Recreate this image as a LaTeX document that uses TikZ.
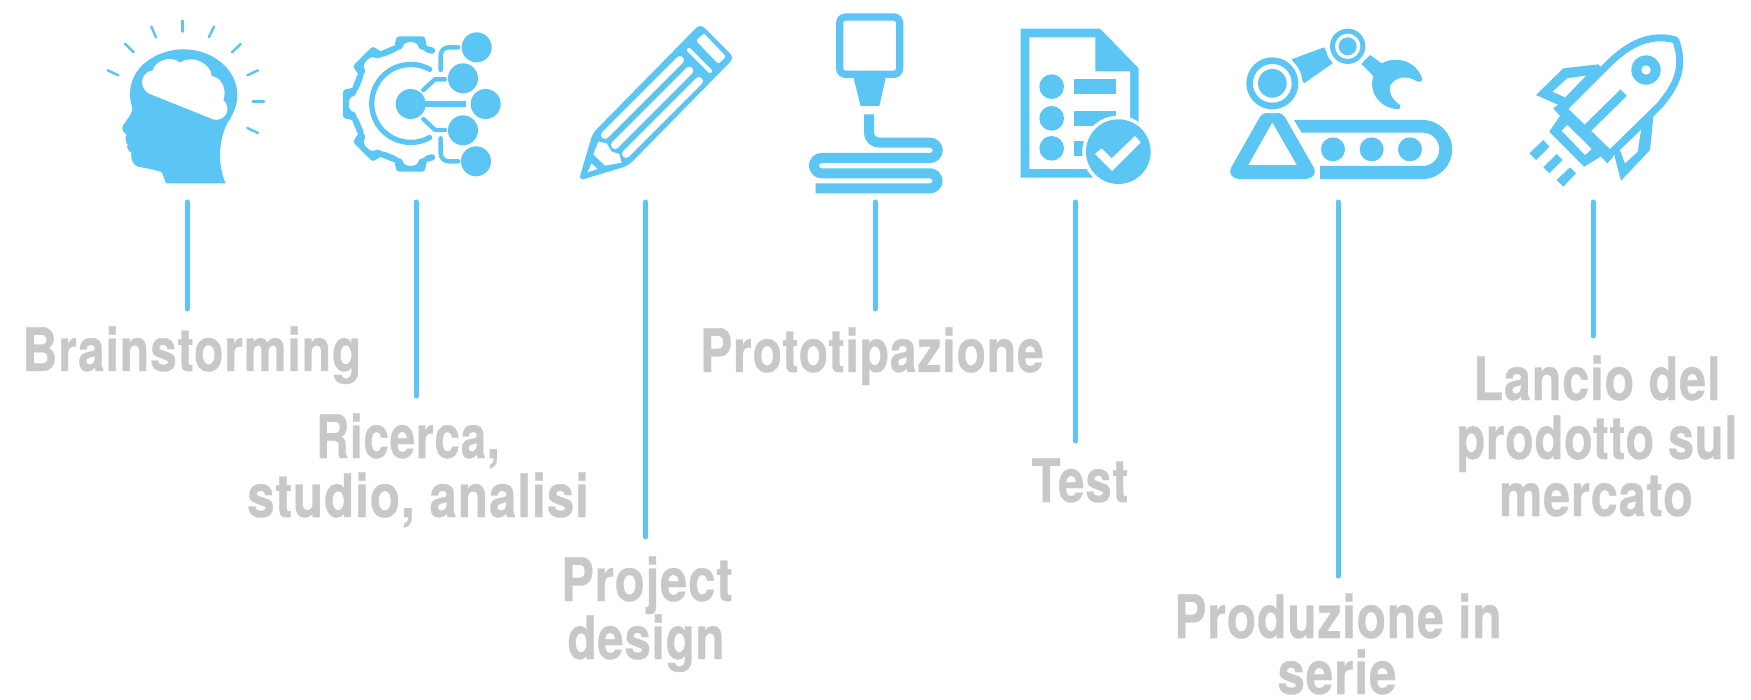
\documentclass[tikz,border=0pt]{standalone}
\usepackage{fontspec}
\setmainfont{TeX Gyre Heros}[FakeStretch=0.8,LetterSpace=1.5,FakeBold=0.5]
\definecolor{ic}{HTML}{5BC5F4}
\definecolor{tx}{HTML}{C8C8C8}
\tikzset{
 lbl/.style={anchor=base,inner sep=0pt,text=tx,transform shape,xscale=#1,font=\fontsize{60}{60}\selectfont\bfseries},
 lbl/.default=1,
 conn/.style={draw=ic,line width=5pt,line cap=round},
 zm/.style 2 args={shift={(#1,#2)},scale=1/3},
 ray/.style={draw=ic,line width=2.5pt,line cap=round},
 ln/.style={draw=ic,line width=4.4pt,line cap=round,line join=round},
 gr/.style={draw=ic,line width=6.3pt,line cap=round,line join=round},
 whline/.style={draw=white,line cap=round},
}
\begin{document}
\begin{tikzpicture}[x=1pt,y=-1pt]
\useasboundingbox (0,0) rectangle (1751,700);
\fill[white] (0,0) rectangle (1751,700);
% labels
\node[lbl=1.0] (t1) at (192,371) {Brainstorming};
\node[lbl=0.95] (t2a) at (408,458) {Ricerca,};
\node[lbl=1.03] (t2b) at (418,517) {studio, analisi};
\node[lbl=1.02] (t3a) at (647,601) {Project};
\node[lbl=0.985] (t3b) at (646,659) {design};
\node[lbl=1.0] (t4) at (872,372) {Prototipazione};
\node[lbl=0.985] (t5) at (1080,502) {Test};
\node[lbl=1.0] (t6a) at (1338,638) {Produzione in};
\node[lbl=1.03] (t6b) at (1337,694) {serie};
\node[lbl=1.01] (t7a) at (1597,400) {Lancio del};
\node[lbl=0.975] (t7b) at (1597,459) {prodotto sul};
\node[lbl=1.01] (t7c) at (1596,516) {mercato};
% connectors
\coordinate (a1) at (187,202); \coordinate (b1) at (187,309);
\coordinate (a2) at (416,202); \coordinate (b2) at (416,396);
\coordinate (a3) at (645.5,202); \coordinate (b3) at (645.5,537);
\coordinate (a4) at (875,202); \coordinate (b4) at (875,309);
\coordinate (a5) at (1075.5,202); \coordinate (b5) at (1075.5,441);
\coordinate (a6) at (1338,202); \coordinate (b6) at (1338,576);
\coordinate (a7) at (1593,202); \coordinate (b7) at (1593,336);
\foreach \i in {1,...,7} \draw[conn] (a\i) -- (b\i);
% head
\begin{scope}[zm={80}{0}]
\fill[ic] (258,550) -- (246,518) .. controls (240,512) and (200,505) .. (175,500)
 .. controls (160,497) and (152,480) .. (154,458)
 .. controls (146,452) and (138,445) .. (143,434) .. controls (135,425) and (135,412) .. (140,404)
 .. controls (130,398) and (122,385) .. (130,375)
 .. controls (140,360) and (158,340) .. (157,325)
 .. controls (150,300) and (148,280) .. (152,260)
 .. controls (165,190) and (240,148) .. (310,148)
 .. controls (400,148) and (472,210) .. (472,285)
 .. controls (472,320) and (455,350) .. (443,368)
 .. controls (425,400) and (420,440) .. (420,470)
 .. controls (420,500) and (428,530) .. (437,550) -- cycle;
\fill[white] (205,280) -- (392,355) .. controls (415,368) and (445,350) .. (442,325)
 .. controls (441,312) and (436,305) .. (430,300)
 .. controls (442,270) and (425,232) .. (395,228)
 .. controls (395,195) and (340,160) .. (300,188)
 .. controls (275,165) and (225,180) .. (218,212)
 .. controls (190,212) and (170,255) .. (205,280) -- cycle;
\draw[ray] (308,62)--(308,95);
\draw[ray] (214,80)--(228,112);
\draw[ray] (135,131)--(161,157);
\draw[ray] (83,211)--(115,226);
\draw[ray] (387,111)--(402,80);
\draw[ray] (456,157)--(482,132);
\draw[ray] (502,226)--(534,211);
\draw[ray] (518,305)--(552,305);
\draw[ray] (502,384)--(534,399);
\end{scope}
% gear
\begin{scope}[zm={320}{20}]
\foreach \a in {0,45,90,135,180}{
 \begin{scope}[shift={(272,252)},rotate=\a]
 \fill[ic,rounded corners=2.5pt] (-52,-158) -- (-42,-203) -- (42,-203) -- (52,-158) -- (24,-166)
   .. controls (20,-190) and (-20,-190) .. (-24,-166) -- cycle;
 \end{scope}
}
\foreach \a in {0,45,90,135}{
 \begin{scope}[shift={(272,252)},rotate=\a]
 \draw[gr] (-48,-166) -- (-83,-151);
 \end{scope}
}
\draw[gr] (322,88) -- (336,92);
\draw[gr] (322,416) -- (336,412);
\draw[draw=ic,line width=5.3pt,line cap=round] (329,148) arc[start angle=-61,end angle=-299,radius=117];
\fill[ic] (272,252) circle[radius=45];
\fill[ic] (272,243) rectangle (438,261);
\foreach \cx/\cy in {470/82,429/175,497/252,429/331,468/424} \fill[ic] (\cx,\cy) circle[radius=45];
\draw[ln] (310,210) -- (345,178) -- (375,178);
\draw[ln] (310,297) -- (345,330) -- (375,330);
\draw[ln,rounded corners=8pt] (362,150) -- (362,82) -- (415,82);
\draw[ln,rounded corners=8pt] (362,355) -- (362,424) -- (415,424);
\end{scope}
% pencil
\begin{scope}[zm={500}{0}]
\fill[ic,rounded corners=6pt] (236,542) -- (278,400) -- (601,71) -- (703,173) -- (385,497) -- cycle;
\draw[whline,line width=8pt] (315,405) -- (540,180);
\draw[whline,line width=8pt] (345,435) -- (568,212);
\draw[whline,line width=8pt] (378,462) -- (597,243);
\draw[whline,line width=4.2pt] (567,150) -- (630,213);
\fill[white,rounded corners=2pt] (588,122) -- (612,100) -- (678,170) -- (655,192) -- cycle;
\fill[white] (295,425) -- (320,430) -- (335,455) -- (358,462) -- (365,488) -- (315,497) -- (280,463) -- cycle;
\fill[white] (275,490) -- (292,507) -- (262,517) -- cycle;
\end{scope}
% printer
\begin{scope}[zm={780}{0}]
\draw[draw=ic,line width=7.3pt,rounded corners=6pt] (179,51) rectangle (359,223);
\fill[ic] (220,230) -- (318,230) -- (298,318) -- (242,318) -- cycle;
\draw[draw=ic,line width=10pt] (267,343) -- (267,395) .. controls (267,418) and (282,428) .. (300,428) -- (450,428)
 arc[start angle=-90,end angle=90,radius=23] -- (125,474)
 arc[start angle=270,end angle=90,radius=23] -- (450,520)
 arc[start angle=-90,end angle=90,radius=22.5] -- (107,565);
\end{scope}
% document
\begin{scope}[zm={900}{0}]
\fill[ic] (362,86) -- (600,86) -- (716,205) -- (716,533) -- (362,533) -- cycle;
\fill[white] (388,112) -- (586,112) -- (586,214) -- (690,214) -- (690,507) -- (388,507) -- cycle;
\foreach \cy in {260,355,445} \fill[ic] (455,\cy) circle[radius=37];
\fill[ic] (522,238) rectangle (648,282);
\fill[ic] (522,333) rectangle (648,377);
\fill[ic] (522,423) rectangle (600,468);
\fill[white] (655,455) circle[radius=108];
\fill[ic] (655,455) circle[radius=97];
\fill[white] (585,462) -- (605,445) -- (635,475) -- (705,408) -- (722,427) -- (636,513) -- cycle;
\end{scope}
% robot
\begin{scope}[zm={1200}{0}]
\fill[ic,rounded corners=5pt] (187,338) -- (247,338) -- (350,518) -- (330,537) -- (105,537) -- (85,518) -- cycle;
\fill[white] (217,368) -- (290,495) -- (145,495) -- cycle;
\fill[ic] (275,178) -- (372,142) -- (398,190) -- (312,250) -- cycle;
\fill[white] (217,250) circle[radius=90];
\fill[white] (443,139) circle[radius=66];
\fill[ic] (217,250) circle[radius=78];
\fill[white] (217,250) circle[radius=58];
\fill[ic] (217,250) circle[radius=43];
\fill[ic] (443,139) circle[radius=53];
\fill[white] (443,139) circle[radius=38];
\fill[ic] (443,139) circle[radius=27];
\fill[ic] (510,165) -- (545,190) .. controls (590,165) and (650,185) .. (666,235)
 .. controls (668,245) and (658,248) .. (650,243)
 .. controls (620,225) and (585,230) .. (570,258)
 .. controls (565,285) and (585,305) .. (600,315)
 .. controls (605,325) and (595,330) .. (585,327)
 .. controls (540,320) and (505,280) .. (520,228) -- (484,192) -- cycle;
\fill[ic] (282,360) -- (668,360) arc[start angle=-90,end angle=90,radius=88.5] -- (360,537) -- (360,498) -- (668,498)
 arc[start angle=90,end angle=-90,radius=50] -- (305,398) -- cycle;
\foreach \cx in {399,515,630} \fill[ic] (\cx,448) circle[radius=36];
\end{scope}
% rocket
\begin{scope}[zm={1510}{10}]
\fill[ic,line join=round] (78,255) -- (160,175) -- (265,163) -- (300,200) -- (180,300) -- cycle;
\fill[ic,line join=round] (430,320) -- (420,420) -- (333,512) -- (310,425) -- (350,350) -- cycle;
\fill[white] (228,197) -- (172,205) -- (128,245) -- (165,262) -- cycle;
\fill[white] (393,360) -- (383,425) -- (345,460) -- (330,420) -- cycle;
\fill[ic] (130,295) -- (150,318) -- (118,365) -- (222,470) -- (272,440) -- (292,460) -- (310,440) -- (200,300) -- (150,280) -- cycle;
\fill[white] (172,345) -- (245,417) -- (225,435) -- (155,362) -- cycle;
\draw[draw=ic,fill=white,line width=7pt,line join=round] (160,297)
 -- (285,172) .. controls (340,115) and (410,65) .. (497,90)
 .. controls (530,180) and (490,235) .. (450,285) -- (300,432) -- cycle;
\draw[draw=ic,line width=9pt] (341,248) -- (232,355);
\fill[ic] (408,180) circle[radius=44];
\fill[white] (408,180) circle[radius=14];
\fill[ic] (58,430) -- (100,390) -- (118,410) -- (78,450) -- cycle;
\fill[ic] (100,472) -- (140,432) -- (158,450) -- (118,490) -- cycle;
\fill[ic] (140,510) -- (180,472) -- (198,490) -- (160,530) -- cycle;
\end{scope}
\end{tikzpicture}
\end{document}
